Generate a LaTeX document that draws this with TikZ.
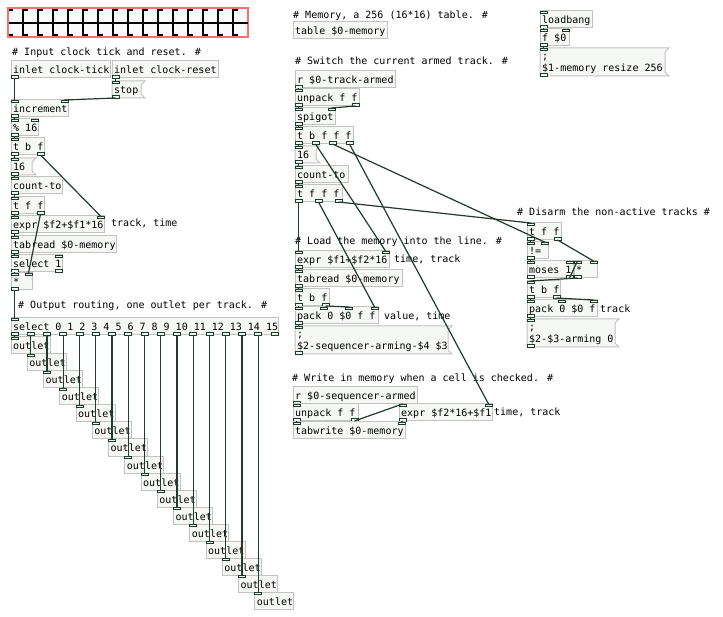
\documentclass[tikz,border=0pt]{standalone}
\usepackage{fontspec}
\newfontfamily\pdfont{DejaVu Sans Mono}
\usetikzlibrary{calc}
\definecolor{boxline}{HTML}{C2C2C2}
\definecolor{boxfill}{HTML}{F6F8F6}
\definecolor{wirecol}{HTML}{25392D}
\definecolor{iocol}{HTML}{1E3A28}
\definecolor{gridred}{HTML}{FF6E6E}
\definecolor{gridfill}{HTML}{FAFAFA}
\tikzset{
  objbox/.style={draw=boxline, fill=boxfill, line width=1pt, inner sep=0pt, outer sep=0pt},
  msgnode/.style={draw=none, inner sep=0pt, outer sep=0pt},
  iolet/.style={draw=iocol, fill=boxfill, line width=0.9pt},
  wire/.style={draw=wirecol, line width=1.2pt},
  txt/.style={font=\pdfont\fontsize{10}{12}\selectfont, inner sep=0pt, text=black},
  gridline/.style={draw=black, line width=1.6pt},
}
% name x y w h nin nout
\newcommand\pdio[7]{%
  \ifnum#6>0\relax
    \pgfmathtruncatemacro\pdlast{#6-1}%
    \foreach \ii in {0,...,\pdlast}{%
      \pgfmathsetmacro\px{#2+(#4-7)*\ii/max(#6-1,1)}%
      \draw[iolet] (\px,#3) rectangle ++(7,2.5);
      \coordinate (#1-i\ii) at (\px+3.5,#3);
    }%
  \fi
  \ifnum#7>0\relax
    \pgfmathtruncatemacro\pdlast{#7-1}%
    \foreach \ii in {0,...,\pdlast}{%
      \pgfmathsetmacro\px{#2+(#4-7)*\ii/max(#7-1,1)}%
      \draw[iolet] (\px,#3+#5-2.5) rectangle ++(7,2.5);
      \coordinate (#1-o\ii) at (\px+3.5,#3+#5);
    }%
  \fi
}
% name x y w h nin nout text
\newcommand\pdobj[8]{%
  \node[objbox, minimum width=#4pt, minimum height=#5pt, anchor=north west] (#1) at (#2,#3) {};
  \pdio{#1}{#2}{#3}{#4}{#5}{#6}{#7}%
  \node[txt, anchor=base west] at (#2+2,#3+13) {#8};
}
% name x y w text
\newcommand\pdmsg[5]{%
  \node[msgnode, minimum width=#4pt, minimum height=17pt, anchor=north west] (#1) at (#2,#3) {};
  \draw[objbox] (#2,#3) -- (#2+#4+4,#3) -- (#2+#4,#3+4) -- (#2+#4,#3+13) -- (#2+#4+4,#3+17) -- (#2,#3+17) -- cycle;
  \pdio{#1}{#2}{#3}{#4}{17}{1}{1}%
  \node[txt, anchor=base west] at (#2+2,#3+13) {#5};
}
% name x y w h line1 line2
\newcommand\pdmsgtwo[7]{%
  \node[msgnode, minimum width=#4pt, minimum height=#5pt, anchor=north west] (#1) at (#2,#3) {};
  \draw[objbox] (#2,#3) -- (#2+#4+4,#3) -- (#2+#4,#3+4) -- (#2+#4,#3+#5-4) -- (#2+#4+4,#3+#5) -- (#2,#3+#5) -- cycle;
  \pdio{#1}{#2}{#3}{#4}{#5}{1}{1}%
  \node[txt, anchor=base west] at (#2+2,#3+12) {#6};
  \node[txt, anchor=base west] at (#2+2,#3+24) {#7};
}
\newcommand\pdwire[2]{\draw[wire] (#1) -- (#2);}
\newcommand\pdcomment[4]{\node[txt, anchor=base west] (#1) at (#2,#3) {#4};}
\begin{document}
\begin{tikzpicture}[x=1pt,y=-1pt]
\useasboundingbox (0,0) rectangle (723,617);
\fill[white] (0,0) rectangle (723,617);

% toggle grid
\draw[gridred, line width=1.5pt, fill=gridfill] (8,8) rectangle (248,37);
\foreach \kk in {1,...,15} {\draw[gridline] (8+15*\kk,9.5) -- (8+15*\kk,36);}
\draw[gridline] (8.5,22.8) -- (247.5,22.8);
\foreach \kk in {0,...,15} {
  \draw[gridline] (8.5+15*\kk,10.2) -- ++(4.5,0);
  \draw[gridline] (8.5+15*\kk,35.3) -- ++(4.5,0);
}

% comments
\pdcomment{ca}{12}{56}{\# Input clock tick and reset. \#}
\pdcomment{cb}{111}{227}{track, time}
\pdcomment{cc}{18}{309}{\# Output routing, one outlet per track. \#}
\pdcomment{cd}{293}{19}{\# Memory, a 256 (16*16) table. \#}
\pdcomment{ce}{295}{65}{\# Switch the current armed track. \#}
\pdcomment{cf}{295}{245}{\# Load the memory into the line. \#}
\pdcomment{cg}{394}{263}{time, track}
\pdcomment{ch}{384}{320}{value, time}
\pdcomment{ci}{292}{382}{\# Write in memory when a cell is checked. \#}
\pdcomment{cj}{494}{416}{time, track}
\pdcomment{ck}{517}{216}{\# Disarm the non-active tracks \#}
\pdcomment{cl}{600}{313}{track}

% left column
\pdobj{ic}{11}{61}{99}{17}{0}{1}{inlet clock-tick}
\pdobj{ir}{112}{61}{106}{17}{0}{1}{inlet clock-reset}
\pdmsg{stop}{112}{81}{29}{stop}
\pdobj{inc}{11}{100}{57}{17}{2}{1}{increment}
\pdobj{mod}{11}{119}{27}{17}{2}{1}{\% 16}
\pdobj{tbf}{11}{138}{33}{17}{1}{2}{t b f}
\pdmsg{msixteen}{11}{158}{21}{16}
\pdobj{cnt}{11}{177}{51}{17}{1}{1}{count-to}
\pdobj{tff}{11}{197}{33}{17}{1}{2}{t f f}
\pdobj{exa}{11}{216}{93}{17}{2}{1}{expr \$f2+\$f1*16}
\pdobj{tra}{11}{236}{105}{17}{1}{1}{tabread \$0-memory}
\pdobj{selone}{11}{255}{51}{17}{2}{2}{select 1}
\pdobj{mul}{11}{273}{21}{17}{2}{1}{*}
\pdobj{sel}{11}{318}{267}{17}{1}{17}{select 0 1 2 3 4 5 6 7 8 9 10 11 12 13 14 15}
\foreach \kk in {0,...,15} {
  \pgfmathsetmacro\ox{11+16.25*\kk}
  \pgfmathsetmacro\oy{337+17*\kk}
  \pdobj{out\kk}{\ox}{\oy}{39}{17}{1}{0}{outlet}
}

% middle column
\pdobj{tab}{293}{22}{94}{17}{0}{0}{table \$0-memory}
\pdobj{rta}{295}{71}{100}{17}{0}{1}{r \$0-track-armed}
\pdobj{unpa}{295}{89}{64}{17}{1}{2}{unpack f f}
\pdobj{spig}{295}{108}{40}{17}{2}{1}{spigot}
\pdobj{tbfff}{295}{127}{58}{17}{1}{4}{t b f f f}
\pdmsg{msixteenb}{295}{146}{21}{16}
\pdobj{cntb}{295}{166}{53}{17}{1}{1}{count-to}
\pdobj{tfff}{295}{185}{47}{17}{1}{3}{t f f f}
\pdobj{exb}{295}{251}{94}{17}{2}{1}{expr \$f1+\$f2*16}
\pdobj{trb}{295}{270}{107}{17}{1}{1}{tabread \$0-memory}
\pdobj{tbfb}{295}{289}{34}{17}{1}{2}{t b f}
\pdobj{packa}{295}{307}{83}{17}{4}{1}{pack 0 \$0 f f}
\pdmsgtwo{msga}{295}{326}{153}{28}{;}{\$2-sequencer-arming-\$4 \$3}
\pdobj{rsa}{293}{387}{124}{17}{0}{1}{r \$0-sequencer-armed}
\pdobj{unpb}{293}{404}{65}{17}{1}{2}{unpack f f}
\pdobj{exc}{399}{404}{93}{17}{2}{1}{expr \$f2*16+\$f1}
\pdobj{tw}{293}{422}{112}{17}{2}{0}{tabwrite \$0-memory}

% right column
\pdobj{lb}{540}{11}{52}{17}{1}{1}{loadbang}
\pdobj{fz}{540}{29}{29}{17}{2}{1}{f \$0}
\pdmsgtwo{msgb}{540}{48}{125}{28}{;}{\$1-memory resize 256}
\pdobj{tffc}{527}{223}{34}{17}{1}{2}{t f f}
\pdobj{neq}{527}{242}{21}{17}{2}{1}{!=}
\pdobj{mos}{527}{261}{46}{17}{2}{2}{moses 1}
\pdobj{mulb}{574}{261}{23}{17}{2}{1}{*}
\pdobj{tbfc}{527}{281}{33}{17}{1}{2}{t b f}
\pdobj{packb}{527}{300}{70}{17}{3}{1}{pack 0 \$0 f}
\pdmsgtwo{msgc}{527}{319}{88}{28}{;}{\$2-\$3-arming 0}

% wires
\pdwire{ic-o0}{inc-i0}
\pdwire{ir-o0}{stop-i0}
\pdwire{stop-o0}{inc-i1}
\pdwire{inc-o0}{mod-i0}
\pdwire{mod-o0}{tbf-i0}
\pdwire{tbf-o0}{msixteen-i0}
\pdwire{tbf-o1}{exa-i1}
\pdwire{msixteen-o0}{cnt-i0}
\pdwire{cnt-o0}{tff-i0}
\pdwire{tff-o0}{exa-i0}
\pdwire{tff-o1}{mul-i1}
\pdwire{exa-o0}{tra-i0}
\pdwire{tra-o0}{selone-i0}
\pdwire{selone-o0}{mul-i0}
\pdwire{mul-o0}{sel-i0}
\foreach \kk in {0,...,15} {\pdwire{sel-o\kk}{out\kk-i0}}

\pdwire{rta-o0}{unpa-i0}
\pdwire{unpa-o0}{spig-i0}
\pdwire{unpa-o1}{spig-i1}
\pdwire{spig-o0}{tbfff-i0}
\pdwire{tbfff-o0}{msixteenb-i0}
\pdwire{tbfff-o1}{exb-i1}
\pdwire{tbfff-o2}{neq-i1}
\pdwire{tbfff-o3}{exc-i1}
\pdwire{msixteenb-o0}{cntb-i0}
\pdwire{cntb-o0}{tfff-i0}
\pdwire{tfff-o0}{exb-i0}
\pdwire{tfff-o1}{packa-i3}
\pdwire{tfff-o2}{tffc-i0}
\pdwire{exb-o0}{trb-i0}
\pdwire{trb-o0}{tbfb-i0}
\pdwire{tbfb-o0}{packa-i0}
\pdwire{tbfb-o1}{packa-i2}
\pdwire{packa-o0}{msga-i0}
\pdwire{rsa-o0}{unpb-i0}
\pdwire{unpb-o0}{tw-i0}
\pdwire{unpb-o1}{exc-i0}
\pdwire{exc-o0}{tw-i1}

\pdwire{lb-o0}{fz-i0}
\pdwire{fz-o0}{msgb-i0}
\pdwire{tffc-o0}{neq-i0}
\pdwire{tffc-o1}{mulb-i1}
\pdwire{neq-o0}{mos-i0}
\pdwire{mos-o1}{mulb-i0}
\pdwire{mulb-o0}{tbfc-i0}
\pdwire{tbfc-o0}{packb-i0}
\pdwire{tbfc-o1}{packb-i2}
\pdwire{packb-o0}{msgc-i0}
\end{tikzpicture}
\end{document}
